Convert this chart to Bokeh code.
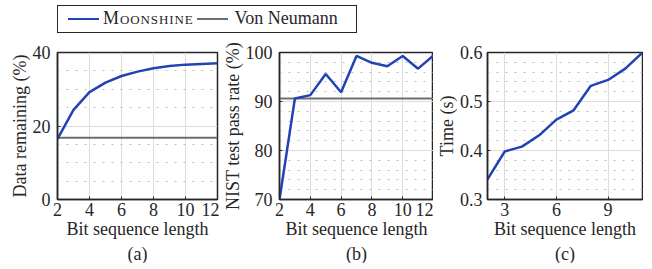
from bokeh.plotting import figure
from bokeh.models import Div, FixedTicker, Title, Range1d
from bokeh.layouts import column, row
from bokeh.embed import file_html
from bokeh.resources import INLINE

# ---------------- data ----------------
series_names = ["Moonshine", "Von Neumann"]

bit_len = [2, 3, 4, 5, 6, 7, 8, 9, 10, 11, 12]
remaining_moonshine = [16.5, 24.4, 29.2, 31.8, 33.6, 34.8, 35.7, 36.3, 36.7, 36.9, 37.1]
remaining_von_neumann = [16.8, 16.8, 16.8, 16.8, 16.8, 16.8, 16.8, 16.8, 16.8, 16.8, 16.8]

nist_moonshine = [70.0, 90.6, 91.3, 95.6, 91.9, 99.3, 97.9, 97.2, 99.3, 96.7, 99.4]
nist_von_neumann = [90.6, 90.6, 90.6, 90.6, 90.6, 90.6, 90.6, 90.6, 90.6, 90.6, 90.6]

time_bits = [2, 3, 4, 5, 6, 7, 8, 9, 10, 11]
time_moonshine = [0.341, 0.398, 0.408, 0.431, 0.463, 0.482, 0.532, 0.544, 0.567, 0.600]

xticks_ab = [2, 4, 6, 8, 10, 12]
xticks_c = [3, 6, 9]
yticks_a = [0, 20, 40]
yminor_a = [5, 10, 15, 25, 30, 35]
yticks_b = [70, 80, 90, 100]
yminor_b = [72, 74, 76, 78, 82, 84, 86, 88, 92, 94, 96, 98]
yticks_c = [0.3, 0.4, 0.5, 0.6]
yminor_c = [0.32, 0.34, 0.36, 0.38, 0.42, 0.44, 0.46, 0.48, 0.52, 0.54, 0.56, 0.58]

x_label = "Bit sequence length"
y_labels = ["Data remaining (%)", "NIST test pass rate (%)", "Time (s)"]
captions = ["(a)", "(b)", "(c)"]

# ---------------- style ----------------
FONT = "Liberation Serif"
FS = "18px"
BLUE = "#2243b6"
GRAY = "#6e6e6e"
DARK = "#262626"


def make_fig(width, bl, br, xr, yr, xticks, yticks, yminor, ylabel, caption, ystandoff=3):
    p = figure(width=width, height=225, output_backend="svg", toolbar_location=None,
               x_range=Range1d(*xr), y_range=Range1d(*yr),
               min_border_left=bl, min_border_right=br, min_border_top=14, min_border_bottom=0)
    p.xaxis.ticker = FixedTicker(ticks=xticks)
    p.yaxis.ticker = FixedTicker(ticks=yticks, minor_ticks=yminor)
    for ax in (p.xaxis, p.yaxis):
        ax.major_label_text_font = FONT
        ax.major_label_text_font_size = FS
        ax.major_label_text_color = DARK
        ax.axis_label_text_font = FONT
        ax.axis_label_text_font_size = FS
        ax.axis_label_text_font_style = "normal"
        ax.axis_label_text_color = DARK
        ax.axis_line_color = DARK
        ax.axis_line_width = 1.5
        ax.major_tick_in = 3
        ax.major_tick_out = 0
        ax.major_tick_line_color = DARK
        ax.minor_tick_line_color = None
        ax.major_label_standoff = 3
        ax.axis_label_standoff = 0
    p.yaxis.major_label_standoff = ystandoff
    p.xaxis.axis_label = x_label
    p.yaxis.axis_label = ylabel
    p.xgrid.grid_line_color = "#dcdcdc"
    p.ygrid.grid_line_color = "#dcdcdc"
    p.xgrid.grid_line_width = 1
    p.ygrid.grid_line_width = 1
    p.ygrid.minor_grid_line_color = "#bdbdbd"
    p.ygrid.minor_grid_line_dash = "2 7"
    p.outline_line_color = DARK
    p.outline_line_width = 1.5
    p.outline_line_alpha = 1
    p.background_fill_color = "white"
    p.border_fill_color = "white"
    p.add_layout(Title(text=caption, align="center", text_font=FONT, text_font_size=FS,
                       text_font_style="normal", text_color=DARK, standoff=0), "below")
    return p


pa = make_fig(219, 57, 2, (2, 12), (0, 40), xticks_ab, yticks_a, yminor_a, y_labels[0], captions[0])
pa.line(bit_len, remaining_von_neumann, line_color=GRAY, line_width=2)
pa.line(bit_len, remaining_moonshine, line_color=BLUE, line_width=2.5)

pb = make_fig(214, 59, 0, (2, 12), (70, 100), xticks_ab, yticks_b, yminor_b, y_labels[1], captions[1])
pb.line(bit_len, nist_von_neumann, line_color=GRAY, line_width=2)
pb.line(bit_len, nist_moonshine, line_color=BLUE, line_width=2.5)

pc = make_fig(210, 48, 1, (2, 11), (0.3, 0.6), xticks_c, yticks_c, yminor_c, y_labels[2], captions[2],
              ystandoff=1)
pc.line(time_bits, time_moonshine, line_color=BLUE, line_width=2.5)

legend_html = (
    f'<div style="margin-left:52px;width:300px;height:28px;box-sizing:border-box;'
    f'border:1px solid {DARK};font-family:Liberation Serif;font-size:18px;color:{DARK};'
    f'display:flex;align-items:center;white-space:nowrap;">'
    f'<span style="display:inline-block;width:31px;height:0;border-top:2.5px solid {BLUE};margin:0 4px 0 10px;"></span>'
    f'<span style="font-variant:small-caps;letter-spacing:0.9px;">{series_names[0]}</span>'
    f'<span style="display:inline-block;width:31px;height:0;border-top:2px solid {GRAY};margin:0 7px 0 3px;"></span>'
    f'<span>{series_names[1]}</span>'
    f'</div>'
)
legend = Div(text=legend_html, width=643, height=28)

p = column(legend, row(pa, pb, pc))

open("out.html", "w").write(file_html(p, INLINE))
